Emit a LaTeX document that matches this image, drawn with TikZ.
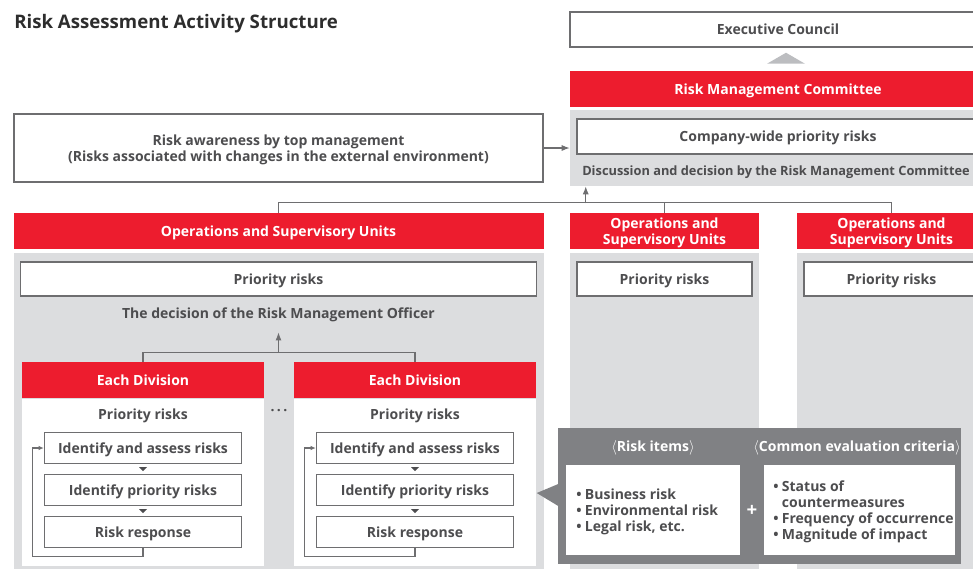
\documentclass[tikz,border=0pt]{standalone}
\usepackage{fontspec}
\setmainfont{Open Sans}
\usepackage{tikz}
\usetikzlibrary{calc,arrows.meta,positioning}
\definecolor{riskred}{RGB}{237,28,46}
\definecolor{panelgray}{RGB}{220,221,223}
\definecolor{darkpanel}{RGB}{128,129,132}
\definecolor{inkgray}{RGB}{77,77,79}
\definecolor{titlegray}{RGB}{45,45,45}
\definecolor{linegray}{RGB}{110,110,112}
\definecolor{arrowgray}{RGB}{188,189,192}
\newcommand{\bul}{\makebox[6.5pt][l]{\textbullet}}

\tikzset{
  sized/.style 2 args={minimum width=(#1)*0.75pt, minimum height=(#2)*0.75pt},
  redbar/.style={fill=riskred, text=white, inner sep=0pt},
  whitebox/.style={draw=linegray, line width=1pt, fill=white, inner sep=0pt},
  panel/.style={fill=panelgray, inner sep=0pt},
  link/.style={draw=linegray, line width=0.8pt},
  tip/.style={-{Latex[length=6pt,width=4.5pt]}},
  looptip/.style={-{Latex[length=4pt,width=3.5pt]}}
}

\begin{document}
\begin{tikzpicture}[x=0.75pt, y=-0.75pt, font=\fontsize{10.5}{12}\selectfont\bfseries, text=inkgray,
    every node/.append style={text depth=0pt}]
  \path[use as bounding box, clip] (0,0) rectangle (973,568);

  \node[anchor=west, inner sep=0pt, text=titlegray, font=\fontsize{14}{16}\selectfont\bfseries] (title) at (14,21) {Risk Assessment Activity Structure};

  % committee column
  \node[whitebox, sized={416}{35}] (exec) at (778,29.5) {Executive Council};
  \node[redbar, sized={416}{36}] (rmc) at (778,89) {Risk Management Committee};
  \fill[arrowgray] ($(rmc.north)+(-11,-7)$) -- ++(19,-11) -- ++(19,11) -- cycle;
  \node[panel, sized={416}{76}] (cpanel) at (778,148) {};
  \node[whitebox, sized={402}{35}] (cwide) at (778,136.5) {Company-wide priority risks};
  \node[anchor=west, inner sep=0pt, font=\fontsize{9.6}{12}\selectfont\bfseries] (discuss) at (582,171) {Discussion and decision by the Risk Management Committee};

  \node[whitebox, sized={529}{68}, align=center] (topmgmt) at (278.5,148) {Risk awareness by top management\\(Risks associated with changes in the external environment)};
  \draw[link, tip] (topmgmt) -- (cpanel);

  % operations and supervisory units
  \foreach \name/\cx/\w/\lbl in {ops1/278.5/530/{Operations and Supervisory Units},
      ops2/664.5/189/{Operations and\\Supervisory Units},
      ops3/891.5/189/{Operations and\\Supervisory Units}} {
    \node[redbar, sized={\w}{36}, align=center] (\name) at (\cx,231) {\lbl};
    \node[panel, sized={\w}{320}] (\name panel) at (\cx,413) {};
    \node[whitebox, sized={\w-14}{34}] (\name prio) at (\cx,279) {Priority risks};
  }
  \coordinate (bus) at ($(ops1.north)+(0,-10)$);
  \draw[link] (ops1.north) -- (bus) -| (ops3.north);
  \draw[link] (ops2.north) -- (ops2.north |- bus);
  \coordinate (feed) at ($(cpanel.south west)+(16,17)$);
  \draw[link, tip] (feed) -- (feed |- cpanel.south);

  \node (officer) at (278.5,313) {The decision of the Risk Management Officer};

  % each division
  \foreach \d/\cx in {1/143, 2/415} {
    \node[redbar, sized={242}{36}] (div\d) at (\cx,380) {Each Division};
    \node[fill=white, inner sep=0pt, sized={242}{167}, anchor=north] (div\d body) at (div\d.south) {};
    \node (div\d prio) at (\cx,414) {Priority risks};
    \node[whitebox, sized={197}{31}] (div\d a) at (\cx,448) {Identify and assess risks};
    \node[whitebox, sized={197}{31}] (div\d b) at (\cx,490) {Identify priority risks};
    \node[whitebox, sized={197}{31}] (div\d c) at (\cx,532) {Risk response};
    \fill[inkgray] ($(div\d a.south)+(-4,3)$) -- ++(8,0) -- ++(-4,4) -- cycle;
    \fill[inkgray] ($(div\d b.south)+(-4,3)$) -- ++(8,0) -- ++(-4,4) -- cycle;
    \draw[link, looptip] (div\d c.south) -- ++(0,8) -| ($(div\d a.west)+(-11,0)$) -- (div\d a.west);
  }
  \node (dots) at (279,412) {·\,·\,·};
  \coordinate (dbus) at ($(div1.north)+(0,-9)$);
  \draw[link] (div1.north) -- (dbus) -| (div2.north);
  \draw[link, tip, shorten >=7pt] (dbus -| officer) -- (officer.south);

  % risk items and criteria
  \node[fill=darkpanel, inner sep=0pt, sized={403}{136}] (items) at (759.5,496) {};
  \fill[darkpanel] ($(items.west)+(0.5,-12)$) -- ($(items.west)+(-21,-3)$) -- ($(items.west)+(0.5,10)$) -- cycle;
  \node[fill=white, inner sep=0pt, sized={174}{90}] (riskbox) at (653,510) {};
  \node[fill=white, inner sep=0pt, sized={191}{90}] (critbox) at (859.5,510) {};
  \node[text=white] (riskhead) at (653,446) {$\langle$Risk items$\rangle$};
  \node[text=white] (crithead) at (857,446) {$\langle$Common evaluation criteria$\rangle$};
  \node[text=white, font=\fontsize{14}{14}\selectfont\bfseries] (plus) at (752,511) {+};
  \node[anchor=west, align=left, inner sep=0pt] (risklist) at (576,510) {\bul Business risk\\\bul Environmental risk\\\bul Legal risk, etc.};
  \node[anchor=west, align=left, inner sep=0pt] (critlist) at (773,510.5) {\bul Status of\\\phantom{\bul}countermeasures\\\bul Frequency of occurrence\\\bul Magnitude of impact};
\end{tikzpicture}
\end{document}
